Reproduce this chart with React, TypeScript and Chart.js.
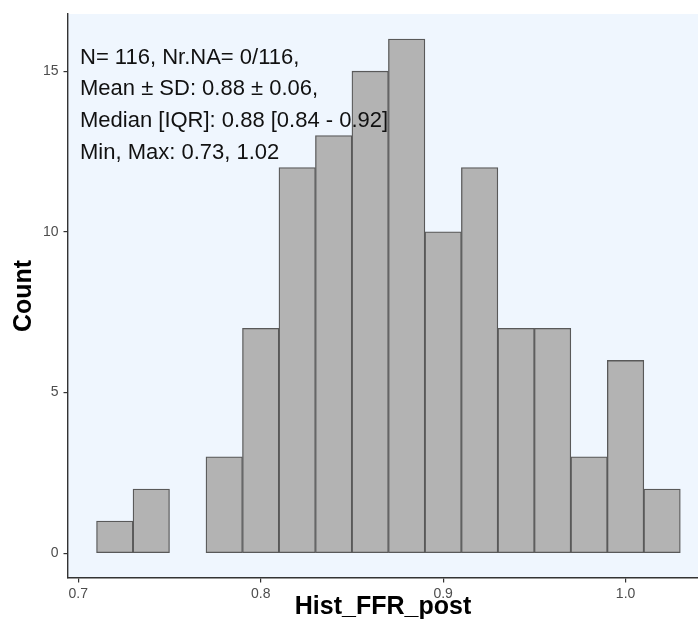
import React, { useEffect, useRef } from "react";
import { Chart, registerables } from "chart.js";

Chart.register(...registerables);

// Histogram bins (width 0.02), centers and counts
const binCenters = [0.72, 0.74, 0.76, 0.78, 0.80, 0.82, 0.84, 0.86, 0.88, 0.90, 0.92, 0.94, 0.96, 0.98, 1.00, 1.02];
const counts = [1, 2, 0, 3, 7, 12, 13, 15, 16, 10, 12, 7, 7, 3, 6, 2];
const xTicks = [0.7, 0.8, 0.9, 1.0];
const yTicks = [0, 5, 10, 15];
const annotationLines = [
  "N= 116, Nr.NA= 0/116,",
  "Mean \u00B1 SD: 0.88 \u00B1 0.06,",
  "Median [IQR]: 0.88 [0.84 - 0.92]",
  "Min, Max: 0.73, 1.02",
];
const xTitle = "Hist_FFR_post";
const yTitle = "Count";

const W = 698;
const H = 633;
const FONT = "'Liberation Sans', Arial, sans-serif";

const panelBg = {
  id: "panelBg",
  beforeDraw(chart: any) {
    const { ctx, chartArea } = chart;
    ctx.save();
    ctx.fillStyle = "#EFF6FE";
    ctx.fillRect(chartArea.left, chartArea.top, chartArea.right - chartArea.left, chartArea.bottom - chartArea.top);
    ctx.restore();
  },
};

const annot = {
  id: "annot",
  afterDatasetsDraw(chart: any) {
    const { ctx, chartArea } = chart;
    ctx.save();
    ctx.fillStyle = "#111111";
    ctx.font = `22px ${FONT}`;
    ctx.textAlign = "left";
    ctx.textBaseline = "alphabetic";
    const x0 = chartArea.left + 12;
    const y0 = chartArea.top + 49.5;
    const step = 31.7;
    annotationLines.forEach((t, i) => {
      ctx.fillText(t, x0, y0 + i * step);
    });
    ctx.restore();
  },
};

export default function App() {
  const ref = useRef<HTMLCanvasElement | null>(null);
  useEffect(() => {
    if (!ref.current) return;
    const chart = new Chart(ref.current, {
      type: "bar",
      data: {
        datasets: [
          {
            data: binCenters.map((x, i) => ({ x, y: counts[i] })),
            backgroundColor: "#B3B3B3",
            borderColor: "#595959",
            borderWidth: 1.3,
            borderSkipped: false,
            barPercentage: 1,
            categoryPercentage: 1,
          },
        ],
      },
      options: {
        responsive: false,
        animation: false,
        maintainAspectRatio: false,
        layout: { padding: { top: 14, right: 0, left: 0, bottom: 0 } },
        plugins: { legend: { display: false }, tooltip: { enabled: false }, title: { display: false } },
        scales: {
          x: {
            type: "linear",
            offset: false,
            min: 0.69436,
            max: 1.0397,
            afterBuildTicks: (s: any) => {
              s.ticks = xTicks.map((v) => ({ value: v }));
            },
            afterFit: (s: any) => {
              s.height = 55;
            },
            ticks: {
              callback: (v: any) => Number(v).toFixed(1),
              color: "#4D4D4D",
              font: { size: 14, family: FONT },
              padding: 3,
              maxRotation: 0,
              autoSkip: false,
            },
            grid: { display: true, offset: false, drawOnChartArea: false, drawTicks: true, tickLength: 4.5, color: "#333333", lineWidth: 1.2 },
            border: { display: true, color: "#333333", width: 1.4 },
            title: {
              display: true,
              text: xTitle,
              color: "#000000",
              font: { size: 25, weight: "bold", family: FONT },
              padding: { top: 0, bottom: 11 },
            },
          },
          y: {
            type: "linear",
            min: -0.77,
            max: 16.78,
            afterBuildTicks: (s: any) => {
              s.ticks = yTicks.map((v) => ({ value: v }));
            },
            afterFit: (s: any) => {
              s.width = 68;
            },
            ticks: {
              callback: (v: any) => String(v),
              color: "#4D4D4D",
              font: { size: 14, family: FONT },
              padding: 5,
              autoSkip: false,
            },
            grid: { display: true, drawOnChartArea: false, drawTicks: true, tickLength: 4.5, color: "#333333", lineWidth: 1.2 },
            border: { display: true, color: "#333333", width: 1.4 },
            title: {
              display: true,
              text: yTitle,
              color: "#000000",
              font: { size: 25, weight: "bold", family: FONT },
              padding: { top: 9, bottom: 0 },
            },
          },
        },
      },
      plugins: [panelBg, annot],
    });
    return () => chart.destroy();
  }, []);
  return (
    <div style={{ position: "absolute", left: 0, top: 0, width: W, height: H, background: "#FFFFFF" }}>
      <canvas ref={ref} width={W} height={H} style={{ width: W, height: H, display: "block" }} />
    </div>
  );
}
